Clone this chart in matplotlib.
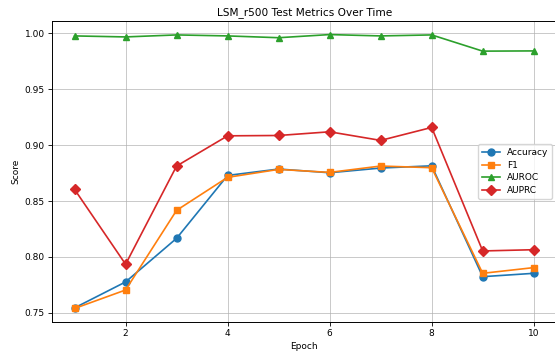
import matplotlib
matplotlib.use("Agg")
import matplotlib.pyplot as plt

epochs = [1, 2, 3, 4, 5, 6, 7, 8, 9, 10]
accuracy = [0.7545, 0.7777, 0.8167, 0.8729, 0.8786, 0.8753, 0.8795, 0.8815, 0.7824, 0.7854]
f1 = [0.7540, 0.7705, 0.8417, 0.8712, 0.8783, 0.8756, 0.8813, 0.8798, 0.7854, 0.7905]
auroc = [0.9976, 0.9967, 0.9985, 0.9976, 0.9960, 0.9988, 0.9976, 0.9985, 0.9840, 0.9842]
auprc = [0.8604, 0.7935, 0.8813, 0.9083, 0.9086, 0.9119, 0.9042, 0.9158, 0.8054, 0.8065]

fig = plt.figure(figsize=(5.55, 3.54), dpi=100)
ax = fig.add_axes([0.093, 0.090, 0.910, 0.851])

lw = 1.2
ms = 5
ax.plot(epochs, accuracy, marker="o", color="#1f77b4", lw=lw, ms=ms, label="Accuracy")
ax.plot(epochs, f1, marker="s", color="#ff7f0e", lw=lw, ms=ms, label="F1")
ax.plot(epochs, auroc, marker="^", color="#2ca02c", lw=lw, ms=ms, label="AUROC")
ax.plot(epochs, auprc, marker="D", color="#d62728", lw=lw, ms=ms, label="AUPRC")

ax.set_title("LSM_r500 Test Metrics Over Time", fontsize=7.6, pad=4)
ax.set_xlabel("Epoch", fontsize=6.5, labelpad=3)
ax.set_ylabel("Score", fontsize=6.5, labelpad=3)
ax.tick_params(labelsize=6.5, width=0.6, length=3, pad=2)
ax.grid(True, color="#b0b0b0", lw=0.6, alpha=0.8)
for s in ax.spines.values():
    s.set_linewidth(0.7)
ax.legend(loc="center right", fontsize=6.5, handlelength=2.0, borderpad=0.4, labelspacing=0.4)

fig.savefig("out.png", dpi=100)
